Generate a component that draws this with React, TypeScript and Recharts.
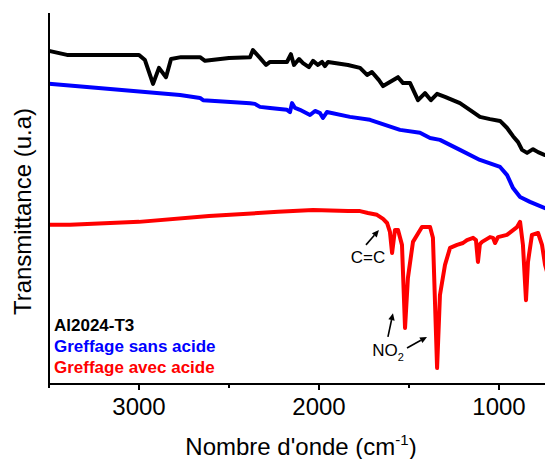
import React from "react";
import { LineChart, Line, XAxis, YAxis, ReferenceLine, ReferenceDot } from "recharts";

// FTIR spectra, [wavenumber cm-1, transmittance a.u.]
const al2024T3: [number, number][] = [
  [3500, 89.8], [3400, 88.7], [3000, 88.7], [2967, 87.3], [2922, 80.9], [2889, 85.2],
  [2850, 82.7], [2822, 87.6], [2767, 88.1], [2661, 88.1], [2633, 87.1], [2500, 87.9],
  [2383, 88.1], [2367, 90.0], [2328, 87.9], [2294, 86.0], [2272, 86.8], [2178, 86.8],
  [2156, 88.9], [2139, 86.0], [2111, 87.6], [2089, 86.5], [2056, 85.4], [2033, 87.1],
  [2006, 86.0], [1983, 86.8], [1967, 85.7], [1950, 86.8], [1839, 86.0], [1772, 85.2],
  [1733, 83.3], [1706, 84.1], [1667, 81.9], [1644, 80.3], [1606, 81.4], [1561, 82.7],
  [1533, 81.1], [1494, 81.1], [1450, 76.5], [1411, 78.4], [1378, 76.5], [1344, 78.2],
  [1300, 77.4], [1217, 75.7], [1144, 73.3], [1106, 72.0], [1050, 71.4], [994, 70.9],
  [955, 69.0], [922, 66.8], [894, 65.2], [872, 63.1], [844, 62.3], [811, 63.3],
  [783, 62.5], [744, 61.7], [720, 61.5],
];

const sansAcide: [number, number][] = [
  [3500, 80.9], [2772, 77.9], [2661, 77.1], [2644, 76.5], [2383, 75.7], [2356, 75.5],
  [2328, 74.7], [2272, 74.4], [2178, 73.9], [2161, 73.3], [2150, 75.7], [2133, 74.4],
  [2106, 73.9], [2050, 72.5], [2022, 73.6], [1994, 73.0], [1978, 71.7], [1956, 73.3],
  [1828, 72.0], [1717, 71.2], [1550, 68.5], [1439, 67.7], [1383, 66.3], [1328, 65.8],
  [1217, 63.1], [1106, 60.4], [994, 58.5], [955, 56.3], [922, 52.8], [883, 50.4],
  [828, 49.1], [744, 47.4], [720, 47.0],
];

const avecAcide: [number, number][] = [
  [3500, 42.9], [3383, 42.9], [3000, 43.7], [2611, 45.3], [2228, 46.4], [2033, 46.9],
  [1839, 46.6], [1772, 46.6], [1728, 46.1], [1678, 45.6], [1644, 44.5], [1622, 43.4],
  [1606, 41.0], [1594, 35.3], [1578, 41.5], [1561, 41.5], [1539, 37.5], [1522, 15.1],
  [1506, 28.6], [1478, 38.3], [1428, 42.3], [1383, 42.3], [1367, 39.4], [1344, 4.3],
  [1328, 24.0], [1300, 32.1], [1272, 36.7], [1233, 37.5], [1200, 38.0], [1178, 38.8],
  [1144, 39.4], [1128, 38.8], [1117, 32.9], [1106, 37.7], [1094, 38.3], [1050, 39.6],
  [1033, 39.4], [1022, 38.0], [1006, 39.6], [956, 40.2], [900, 42.3], [883, 43.7],
  [867, 37.5], [850, 22.6], [839, 32.9], [817, 40.2], [783, 40.7], [761, 37.5],
  [744, 32.1], [720, 28.0],
];

const xTicks = [3500, 3000, 2500, 2000, 1500, 1000];

// annotation arrows: [from, to] in [wavenumber, transmittance]
const ccArrow: [number, number][] = [[1739, 37.5], [1667, 41.5]];
const no2ArrowA: [number, number][] = [[1617, 12.7], [1589, 19.1]];
const no2ArrowB: [number, number][] = [[1511, 9.7], [1400, 12.7]];
const ccLabel: [number, number] = [1728, 34.2];
const no2Label: [number, number] = [1600, 9.2];

const FONT = "'Liberation Sans', Arial, sans-serif";

const toRows = (arr: [number, number][]) => arr.map(([wn, t]) => ({ wn, t }));

const XTick = (props: any) => {
  const { x, y, payload } = props;
  const major = payload.value % 1000 === 0;
  return (
    <g>
      <line x1={x} x2={x} y1={y} y2={y + (major ? 6 : 4)} stroke="#000" strokeWidth={2} />
      {major && (
        <text x={x} y={y + 14} dy="0.71em" textAnchor="middle" fontSize={24} fontFamily={FONT} fill="#000">
          {payload.value}
        </text>
      )}
    </g>
  );
};

const Arrow = (p: any) => {
  const { x1, y1, x2, y2 } = p;
  const a = Math.atan2(y2 - y1, x2 - x1);
  const len = 7;
  const w = 3.2;
  const bx = x2 - len * Math.cos(a);
  const by = y2 - len * Math.sin(a);
  const pts = `${x2},${y2} ${bx + w * Math.sin(a)},${by - w * Math.cos(a)} ${bx - w * Math.sin(a)},${by + w * Math.cos(a)}`;
  return (
    <g>
      <line x1={x1} y1={y1} x2={bx} y2={by} stroke="#000" strokeWidth={1.6} />
      <polygon points={pts} fill="#000" />
    </g>
  );
};

const seg = (s: [number, number][]) => s.map(([x, y]) => ({ x, y }));

export default function App() {
  return (
    <div
      style={{
        position: "absolute",
        left: 0,
        top: 0,
        width: 545,
        height: 459,
        overflow: "hidden",
        background: "#fff",
        fontFamily: FONT,
      }}
    >
      <LineChart width={560} height={459} margin={{ top: 13, right: 7, left: 0, bottom: 0 }}>
        <XAxis
          dataKey="wn"
          type="number"
          domain={[700, 3500]}
          reversed
          ticks={xTicks}
          interval={0}
          tickSize={0}
          tickMargin={0}
          tick={<XTick />}
          tickLine={false}
          axisLine={{ stroke: "#000", strokeWidth: 2 }}
          height={75}
          label={{
            content: (lp: any) => {
              const vb = lp.viewBox;
              return (
                <text x={vb.x + vb.width / 2} y={vb.y + 71} textAnchor="middle" fontSize={24} fontFamily={FONT} fill="#000">
                  Nombre d'onde (cm
                  <tspan dy={-10} fontSize={15}>-1</tspan>
                  <tspan dy={10}>)</tspan>
                </text>
              );
            },
          }}
        />
        <XAxis
          xAxisId="top"
          orientation="top"
          type="number"
          domain={[700, 3500]}
          reversed
          tick={false}
          tickLine={false}
          axisLine={{ stroke: "#000", strokeWidth: 2 }}
          height={0}
        />
        <YAxis
          type="number"
          domain={[0, 100]}
          tick={false}
          tickLine={false}
          width={49}
          axisLine={{ stroke: "#000", strokeWidth: 2 }}
          label={{
            content: (lp: any) => {
              const vb = lp.viewBox;
              const cx = vb.x + 31;
              const cy = vb.y + vb.height / 2 + 13;
              return (
                <text x={cx} y={cy} transform={`rotate(-90 ${cx} ${cy})`} textAnchor="middle" fontSize={24} fontFamily={FONT} fill="#000">
                  Transmittance (u.a)
                </text>
              );
            },
          }}
        />
        <Line data={toRows(al2024T3)} dataKey="t" type="linear" stroke="#000000" strokeWidth={4} strokeLinejoin="round" dot={false} isAnimationActive={false} />
        <Line data={toRows(sansAcide)} dataKey="t" type="linear" stroke="#0000ff" strokeWidth={4} strokeLinejoin="round" dot={false} isAnimationActive={false} />
        <Line data={toRows(avecAcide)} dataKey="t" type="linear" stroke="#ff0000" strokeWidth={4} strokeLinejoin="round" dot={false} isAnimationActive={false} />
        <ReferenceLine segment={seg(ccArrow)} shape={Arrow} />
        <ReferenceLine segment={seg(no2ArrowA)} shape={Arrow} />
        <ReferenceLine segment={seg(no2ArrowB)} shape={Arrow} />
        <ReferenceDot
          x={ccLabel[0]}
          y={ccLabel[1]}
          r={0}
          shape={(p: any) => (
            <text x={p.cx} y={p.cy + 6} textAnchor="middle" fontSize={17} fontFamily={FONT} fill="#000">
              C=C
            </text>
          )}
        />
        <ReferenceDot
          x={no2Label[0]}
          y={no2Label[1]}
          r={0}
          shape={(p: any) => (
            <text x={p.cx - 3} y={p.cy + 6} textAnchor="middle" fontSize={17} fontFamily={FONT} fill="#000">
              NO
              <tspan dy={5} fontSize={11}>2</tspan>
            </text>
          )}
        />
      </LineChart>
      <div
        style={{
          position: "absolute",
          left: 54,
          top: 315,
          fontWeight: "bold",
          fontSize: 17,
          lineHeight: "21px",
        }}
      >
        <div style={{ color: "#000" }}>Al2024-T3</div>
        <div style={{ color: "#0000ff" }}>Greffage sans acide</div>
        <div style={{ color: "#ff0000" }}>Greffage avec acide</div>
      </div>
    </div>
  );
}
